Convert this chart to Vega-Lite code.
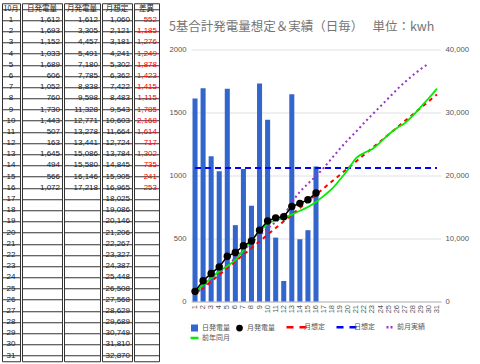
{
  "$schema": "https://vega.github.io/schema/vega-lite/v6.json",
  "padding": {"left": 1, "top": 1, "right": 0, "bottom": 0},
  "background": "white",
  "datasets": {
    "d": [
      {"day": 1, "daily": 1612, "monthly": 1612, "plan": 1060, "diff": 552, "dplan": 1060, "prev": 1100, "lasty": 1500},
      {"day": 2, "daily": 1693, "monthly": 3305, "plan": 2121, "diff": 1185, "dplan": 1060, "prev": 2300, "lasty": 2600},
      {"day": 3, "daily": 1152, "monthly": 4457, "plan": 3181, "diff": 1276, "dplan": 1060, "prev": 3500, "lasty": 3700},
      {"day": 4, "daily": 1033, "monthly": 5491, "plan": 4241, "diff": 1249, "dplan": 1060, "prev": 4600, "lasty": 4800},
      {"day": 5, "daily": 1689, "monthly": 7180, "plan": 5302, "diff": 1878, "dplan": 1060, "prev": 5700, "lasty": 5600},
      {"day": 6, "daily": 606, "monthly": 7785, "plan": 6362, "diff": 1423, "dplan": 1060, "prev": 6900, "lasty": 6600},
      {"day": 7, "daily": 1052, "monthly": 8838, "plan": 7422, "diff": 1415, "dplan": 1060, "prev": 8100, "lasty": 8100},
      {"day": 8, "daily": 760, "monthly": 9598, "plan": 8483, "diff": 1115, "dplan": 1060, "prev": 9300, "lasty": 9700},
      {"day": 9, "daily": 1730, "monthly": 11328, "plan": 9543, "diff": 1785, "dplan": 1060, "prev": 10500, "lasty": 11100},
      {"day": 10, "daily": 1443, "monthly": 12771, "plan": 10603, "diff": 2168, "dplan": 1060, "prev": 11600, "lasty": 12300},
      {"day": 11, "daily": 507, "monthly": 13278, "plan": 11664, "diff": 1614, "dplan": 1060, "prev": 12600, "lasty": 12900},
      {"day": 12, "daily": 163, "monthly": 13441, "plan": 12724, "diff": 717, "dplan": 1060, "prev": 13700, "lasty": 13300},
      {"day": 13, "daily": 1645, "monthly": 15086, "plan": 13784, "diff": 1302, "dplan": 1060, "prev": 15700, "lasty": 13800},
      {"day": 14, "daily": 494, "monthly": 15580, "plan": 14845, "diff": 735, "dplan": 1060, "prev": 17400, "lasty": 14400},
      {"day": 15, "daily": 566, "monthly": 16146, "plan": 15905, "diff": 241, "dplan": 1060, "prev": 18700, "lasty": 15000},
      {"day": 16, "daily": 1072, "monthly": 17218, "plan": 16965, "diff": 253, "dplan": 1060, "prev": 19900, "lasty": 15800},
      {"day": 17, "daily": null, "monthly": null, "plan": 18025, "diff": null, "dplan": 1060, "prev": 21300, "lasty": 16800},
      {"day": 18, "daily": null, "monthly": null, "plan": 19086, "diff": null, "dplan": 1060, "prev": 22800, "lasty": 17900},
      {"day": 19, "daily": null, "monthly": null, "plan": 20146, "diff": null, "dplan": 1060, "prev": 24300, "lasty": 19400},
      {"day": 20, "daily": null, "monthly": null, "plan": 21206, "diff": null, "dplan": 1060, "prev": 25700, "lasty": 21000},
      {"day": 21, "daily": null, "monthly": null, "plan": 22267, "diff": null, "dplan": 1060, "prev": 27000, "lasty": 22800},
      {"day": 22, "daily": null, "monthly": null, "plan": 23327, "diff": null, "dplan": 1060, "prev": 28400, "lasty": 23600},
      {"day": 23, "daily": null, "monthly": null, "plan": 24387, "diff": null, "dplan": 1060, "prev": 29700, "lasty": 24200},
      {"day": 24, "daily": null, "monthly": null, "plan": 25448, "diff": null, "dplan": 1060, "prev": 31000, "lasty": 25300},
      {"day": 25, "daily": null, "monthly": null, "plan": 26508, "diff": null, "dplan": 1060, "prev": 32300, "lasty": 26500},
      {"day": 26, "daily": null, "monthly": null, "plan": 27568, "diff": null, "dplan": 1060, "prev": 33600, "lasty": 27500},
      {"day": 27, "daily": null, "monthly": null, "plan": 28629, "diff": null, "dplan": 1060, "prev": 34800, "lasty": 28300},
      {"day": 28, "daily": null, "monthly": null, "plan": 29689, "diff": null, "dplan": 1060, "prev": 35900, "lasty": 29500},
      {"day": 29, "daily": null, "monthly": null, "plan": 30749, "diff": null, "dplan": 1060, "prev": 36900, "lasty": 30900},
      {"day": 30, "daily": null, "monthly": null, "plan": 31810, "diff": null, "dplan": 1060, "prev": 37800, "lasty": 32300},
      {"day": 31, "daily": null, "monthly": null, "plan": 32870, "diff": null, "dplan": 1060, "prev": null, "lasty": 33800}
    ]
  },
  "spacing": 8,
  "center": true,
  "resolve": {"scale": {"color": "independent"}, "legend": {"color": "independent"}},
  "hconcat": [
    {
      "spacing": 0,
      "hconcat": [
        {
          "width": 18, "height": 358,
          "view": {"stroke": "#333", "strokeWidth": 1},
          "layer": [
            {"data": {"values": [{"day": 0, "label": "10月"}]},
             "mark": {"type": "text", "font": "Noto Sans CJK JP", "fontSize": 7, "color": "#222"},
             "encoding": {"y": {"field": "day", "type": "ordinal", "scale": {"domain": [0,1,2,3,4,5,6,7,8,9,10,11,12,13,14,15,16,17,18,19,20,21,22,23,24,25,26,27,28,29,30,31], "paddingInner": 0, "paddingOuter": 0}, "axis": {"title": null, "labels": false, "ticks": false, "domain": false, "grid": true, "gridColor": "#333", "gridOpacity": 1, "bandPosition": 0}}, "text": {"field": "label"}}},
            {"data": {"name": "d"},
             "mark": {"type": "text", "font": "Liberation Sans Narrow, Liberation Sans", "fontSize": 8, "color": "#222"},
             "encoding": {
               "x": {"datum": 0.5, "type": "quantitative", "scale": {"domain": [0, 1]}, "axis": {"title": null, "labels": false, "ticks": false, "domain": false, "grid": false, "minExtent": 28}},
               "y": {"field": "day", "type": "ordinal", "scale": {"domain": [0,1,2,3,4,5,6,7,8,9,10,11,12,13,14,15,16,17,18,19,20,21,22,23,24,25,26,27,28,29,30,31], "paddingInner": 0, "paddingOuter": 0}}, "text": {"field": "day", "type": "ordinal"}}}
          ]
        },
        {
          "width": 40, "height": 358,
          "view": {"stroke": "#333", "strokeWidth": 1},
          "layer": [
            {"data": {"values": [{"day": 0, "label": "日発電量"}]},
             "mark": {"type": "text", "font": "Noto Sans CJK JP", "fontSize": 7.5, "color": "#222"},
             "encoding": {"y": {"field": "day", "type": "ordinal", "scale": {"domain": [0,1,2,3,4,5,6,7,8,9,10,11,12,13,14,15,16,17,18,19,20,21,22,23,24,25,26,27,28,29,30,31], "paddingInner": 0, "paddingOuter": 0}, "axis": {"title": null, "labels": false, "ticks": false, "domain": false, "grid": true, "gridColor": "#333", "gridOpacity": 1, "bandPosition": 0}}, "text": {"field": "label"}}},
            {"data": {"name": "d"},
             "transform": [{"filter": {"field": "daily", "valid": true}}],
             "mark": {"type": "text", "align": "right", "dx": 18, "font": "Liberation Sans Narrow, Liberation Sans", "fontSize": 8, "color": "#222"},
             "encoding": {"y": {"field": "day", "type": "ordinal", "scale": {"domain": [0,1,2,3,4,5,6,7,8,9,10,11,12,13,14,15,16,17,18,19,20,21,22,23,24,25,26,27,28,29,30,31], "paddingInner": 0, "paddingOuter": 0}}, "text": {"field": "daily", "type": "quantitative", "format": ","}}}
          ]
        },
        {
          "width": 36, "height": 358,
          "view": {"stroke": "#333", "strokeWidth": 1},
          "layer": [
            {"data": {"values": [{"day": 0, "label": "月発電量"}]},
             "mark": {"type": "text", "font": "Noto Sans CJK JP", "fontSize": 7.5, "color": "#222"},
             "encoding": {"y": {"field": "day", "type": "ordinal", "scale": {"domain": [0,1,2,3,4,5,6,7,8,9,10,11,12,13,14,15,16,17,18,19,20,21,22,23,24,25,26,27,28,29,30,31], "paddingInner": 0, "paddingOuter": 0}, "axis": {"title": null, "labels": false, "ticks": false, "domain": false, "grid": true, "gridColor": "#333", "gridOpacity": 1, "bandPosition": 0}}, "text": {"field": "label"}}},
            {"data": {"name": "d"},
             "transform": [{"filter": {"field": "monthly", "valid": true}}],
             "mark": {"type": "text", "align": "right", "dx": 16, "font": "Liberation Sans Narrow, Liberation Sans", "fontSize": 8, "color": "#222"},
             "encoding": {"y": {"field": "day", "type": "ordinal", "scale": {"domain": [0,1,2,3,4,5,6,7,8,9,10,11,12,13,14,15,16,17,18,19,20,21,22,23,24,25,26,27,28,29,30,31], "paddingInner": 0, "paddingOuter": 0}}, "text": {"field": "monthly", "type": "quantitative", "format": ","}}}
          ]
        },
        {
          "width": 30, "height": 358,
          "view": {"stroke": "#333", "strokeWidth": 1},
          "layer": [
            {"data": {"values": [{"day": 0, "label": "月想定"}]},
             "mark": {"type": "text", "font": "Noto Sans CJK JP", "fontSize": 7.5, "color": "#222"},
             "encoding": {"y": {"field": "day", "type": "ordinal", "scale": {"domain": [0,1,2,3,4,5,6,7,8,9,10,11,12,13,14,15,16,17,18,19,20,21,22,23,24,25,26,27,28,29,30,31], "paddingInner": 0, "paddingOuter": 0}, "axis": {"title": null, "labels": false, "ticks": false, "domain": false, "grid": true, "gridColor": "#333", "gridOpacity": 1, "bandPosition": 0}}, "text": {"field": "label"}}},
            {"data": {"name": "d"},
             "mark": {"type": "text", "align": "right", "dx": 13, "font": "Liberation Sans Narrow, Liberation Sans", "fontSize": 8, "color": "#222"},
             "encoding": {"y": {"field": "day", "type": "ordinal", "scale": {"domain": [0,1,2,3,4,5,6,7,8,9,10,11,12,13,14,15,16,17,18,19,20,21,22,23,24,25,26,27,28,29,30,31], "paddingInner": 0, "paddingOuter": 0}}, "text": {"field": "plan", "type": "quantitative", "format": ","}}}
          ]
        },
        {
          "width": 25, "height": 358,
          "view": {"stroke": "#333", "strokeWidth": 1},
          "layer": [
            {"data": {"values": [{"day": 0, "label": "差異"}]},
             "mark": {"type": "text", "font": "Noto Sans CJK JP", "fontSize": 7.5, "color": "#222"},
             "encoding": {"y": {"field": "day", "type": "ordinal", "scale": {"domain": [0,1,2,3,4,5,6,7,8,9,10,11,12,13,14,15,16,17,18,19,20,21,22,23,24,25,26,27,28,29,30,31], "paddingInner": 0, "paddingOuter": 0}, "axis": {"title": null, "labels": false, "ticks": false, "domain": false, "grid": true, "gridColor": "#333", "gridOpacity": 1, "bandPosition": 0}}, "text": {"field": "label"}}},
            {"data": {"name": "d"},
             "transform": [{"filter": {"field": "diff", "valid": true}}],
             "mark": {"type": "text", "align": "right", "dx": 10.5, "font": "Liberation Sans Narrow, Liberation Sans", "fontSize": 8, "color": "#ff0000"},
             "encoding": {"y": {"field": "day", "type": "ordinal", "scale": {"domain": [0,1,2,3,4,5,6,7,8,9,10,11,12,13,14,15,16,17,18,19,20,21,22,23,24,25,26,27,28,29,30,31], "paddingInner": 0, "paddingOuter": 0}}, "text": {"field": "diff", "type": "quantitative", "format": ","}}}
          ]
        }
      ]
    },
    {
      "width": 250, "height": 252,
      "view": {"stroke": null},
      "data": {"name": "d"},
      "title": {"text": ["", "5基合計発電量想定＆実績（日毎）　  単位：kwh"], "lineHeight": 20, "anchor": "start", "frame": "bounds", "font": "Noto Sans CJK JP", "fontSize": 12.5, "fontWeight": "normal", "color": "#757575", "offset": 12},
      "encoding": {
        "x": {"field": "day", "type": "ordinal", "scale": {"paddingInner": 0.375, "paddingOuter": 0.1875},
              "axis": {"title": null, "labelAngle": -90, "labelFontSize": 7.5, "labelColor": "#555", "labelFont": "Liberation Sans", "ticks": false, "domain": false, "labelPadding": 3}}
      },
      "layer": [
        {
          "layer": [
            {"mark": {"type": "bar", "color": "#3366cc"},
             "encoding": {
               "y": {"field": "daily", "type": "quantitative", "scale": {"domain": [0, 2000], "nice": false},
                     "axis": {"title": null, "values": [0, 500, 1000, 1500, 2000], "format": "d", "grid": true, "gridColor": {"condition": {"test": "datum.value === 0", "value": "#aaaaaa"}, "value": "#e0e0e0"}, "ticks": false, "domain": false, "labelFontSize": 7.7, "labelColor": "#555", "labelFont": "Liberation Sans", "labelPadding": 5}},
               "color": {"datum": "日発電量", "type": "nominal",
                 "scale": {"domain": ["日発電量", "月発電量", "月想定", "日想定", "前月実績", "前年同月"], "range": ["#3366cc", "#000000", "#ff0000", "#0000ff", "#9933cc", "#00ee00"]},
                 "legend": {"title": null, "orient": "bottom", "direction": "horizontal", "columns": 5, "offset": 10,
                   "labelFont": "Noto Sans CJK JP", "labelFontSize": 7, "labelColor": "#555", "labelOffset": 4,
                   "symbolSize": 400, "columnPadding": 6, "rowPadding": 0,
                   "encode": {"symbols": {"update": {
                     "shape": {"signal": "datum.value === '日発電量' ? 'square' : datum.value === '月発電量' ? 'circle' : 'stroke'"},
                     "size": {"signal": "datum.value === '日発電量' ? 49 : datum.value === '月発電量' ? 45 : (datum.value === '月想定' || datum.value === '日想定') ? 400 : datum.value === '前月実績' ? 36 : 64"},
                     "fill": {"signal": "datum.value === '日発電量' ? '#3366cc' : datum.value === '月発電量' ? '#000000' : 'transparent'"},
                     "stroke": {"signal": "datum.value === '月想定' ? '#ff0000' : datum.value === '日想定' ? '#0000ff' : datum.value === '前月実績' ? '#9933cc' : datum.value === '前年同月' ? '#00ee00' : 'transparent'"},
                     "strokeWidth": {"signal": "(datum.value === '日発電量' || datum.value === '月発電量') ? 0 : 2.5"},
                     "strokeDash": {"signal": "datum.value === '前月実績' ? [2, 2] : (datum.value === '月想定' || datum.value === '日想定') ? [7, 6] : [1, 0]"},
                     "opacity": {"value": 1}
                   }}}
                 }}
             }},
            {"mark": {"type": "line", "strokeWidth": 2, "strokeDash": [6, 4]},
             "encoding": {
               "y": {"field": "dplan", "type": "quantitative", "scale": {"domain": [0, 2000], "nice": false},
                     "axis": {"title": null, "values": [0, 500, 1000, 1500, 2000], "format": "d", "grid": true, "gridColor": {"condition": {"test": "datum.value === 0", "value": "#aaaaaa"}, "value": "#e0e0e0"}, "ticks": false, "domain": false, "labelFontSize": 7.7, "labelColor": "#555", "labelFont": "Liberation Sans", "labelPadding": 5}},
               "color": {"datum": "日想定", "type": "nominal"}
             }}
          ]
        },
        {
          "layer": [
            {"mark": {"type": "line", "strokeWidth": 2, "strokeDash": [4, 4]},
             "encoding": {
               "y": {"field": "plan", "type": "quantitative", "scale": {"domain": [0, 40000], "nice": false},
                     "axis": {"title": null, "orient": "right", "values": [0, 10000, 20000, 30000, 40000], "labelExpr": "format(datum.value, ',')", "grid": false, "ticks": false, "domain": false, "labelFontSize": 7.7, "labelColor": "#555", "labelFont": "Liberation Sans", "labelPadding": 4}},
               "color": {"datum": "月想定", "type": "nominal"}
             }},
            {"mark": {"type": "line", "strokeWidth": 2, "strokeDash": [2, 3], "interpolate": "monotone"},
             "encoding": {
               "y": {"field": "prev", "type": "quantitative", "scale": {"domain": [0, 40000], "nice": false},
                     "axis": {"title": null, "orient": "right", "values": [0, 10000, 20000, 30000, 40000], "labelExpr": "format(datum.value, ',')", "grid": false, "ticks": false, "domain": false, "labelFontSize": 7.7, "labelColor": "#555", "labelFont": "Liberation Sans", "labelPadding": 4}},
               "color": {"datum": "前月実績", "type": "nominal"}
             }},
            {"mark": {"type": "line", "strokeWidth": 1.8, "interpolate": "monotone"},
             "encoding": {
               "y": {"field": "lasty", "type": "quantitative", "scale": {"domain": [0, 40000], "nice": false},
                     "axis": {"title": null, "orient": "right", "values": [0, 10000, 20000, 30000, 40000], "labelExpr": "format(datum.value, ',')", "grid": false, "ticks": false, "domain": false, "labelFontSize": 7.7, "labelColor": "#555", "labelFont": "Liberation Sans", "labelPadding": 4}},
               "color": {"datum": "前年同月", "type": "nominal"}
             }},
            {"mark": {"type": "line", "strokeWidth": 1.5, "point": {"filled": true, "size": 55}},
             "encoding": {
               "y": {"field": "monthly", "type": "quantitative", "scale": {"domain": [0, 40000], "nice": false},
                     "axis": {"title": null, "orient": "right", "values": [0, 10000, 20000, 30000, 40000], "labelExpr": "format(datum.value, ',')", "grid": false, "ticks": false, "domain": false, "labelFontSize": 7.7, "labelColor": "#555", "labelFont": "Liberation Sans", "labelPadding": 4}},
               "color": {"datum": "月発電量", "type": "nominal"}
             }}
          ]
        }
      ],
      "resolve": {"scale": {"y": "independent"}}
    }
  ]
}
